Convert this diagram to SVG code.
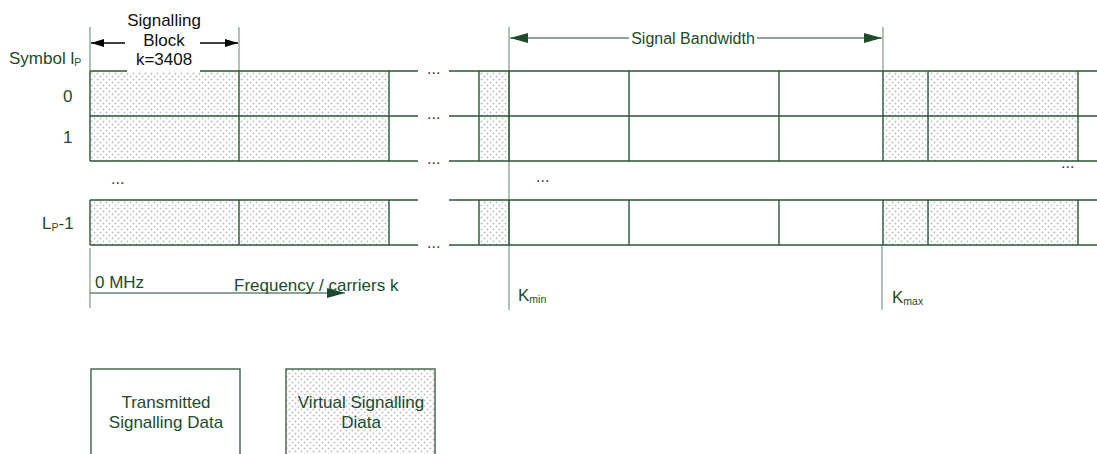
<svg xmlns="http://www.w3.org/2000/svg" width="1097" height="454" viewBox="0 0 1097 454">
<style>
.t{font-family:"Liberation Sans",Arial,sans-serif;font-size:17px;fill:#1d4b2b}
.t16{font-size:16px}
.tb{font-family:"Liberation Sans",Arial,sans-serif;font-size:17px;fill:#111}
.sub{font-size:10.5px}
.ln{stroke:#2b5636;stroke-width:1.4;fill:none}
.lt{stroke:#7d9a84;stroke-width:1.2;fill:none}
.sh{fill:url(#dots)}
</style>
<defs>
<pattern id="dots" width="6" height="6" patternUnits="userSpaceOnUse">
<rect width="6" height="6" fill="#fff"/>
<circle cx="1.5" cy="1.5" r="0.9" fill="#bdbdbd"/>
<circle cx="4.5" cy="4.5" r="0.9" fill="#bdbdbd"/>
</pattern>
<marker id="ag" markerUnits="userSpaceOnUse" markerWidth="18" markerHeight="12" refX="18" refY="6" orient="auto-start-reverse">
<path d="M0,1 L18,6 L0,11 z" fill="#1d4b2b"/>
</marker>
<marker id="ak" markerUnits="userSpaceOnUse" markerWidth="13" markerHeight="10" refX="13" refY="5" orient="auto-start-reverse">
<path d="M0,1 L13,5 L0,9 z" fill="#000"/>
</marker>
</defs>
<rect width="1097" height="454" fill="#fff"/>

<g id="shading">
<rect class="sh" x="90" y="71" width="299" height="90"/>
<rect class="sh" x="90" y="200" width="299" height="45"/>
<rect class="sh" x="479" y="71" width="30" height="90"/>
<rect class="sh" x="479" y="200" width="30" height="45"/>
<rect class="sh" x="883" y="71" width="195" height="90"/>
<rect class="sh" x="883" y="200" width="195" height="45"/>
</g>

<g id="connectors">
<line class="lt" x1="90" y1="27" x2="90" y2="71"/>
<line class="lt" x1="239" y1="27" x2="239" y2="71"/>
<line class="lt" x1="509" y1="27" x2="509" y2="310"/>
<line class="lt" x1="883" y1="27" x2="883" y2="71"/>
<line class="lt" x1="882" y1="245" x2="882" y2="310"/>
<line class="lt" x1="90" y1="248" x2="90" y2="308"/>
<path class="ln" d="M90,71H418M449,71H1097M90,116H418M449,116H1097M90,161H418M449,161H1097M90,200H418M449,200H1097M90,245H418M449,245H1097"/>
<path class="ln" d="M90,71V161M239,71V161M389,71V161M90,200V245M239,200V245M389,200V245"/>
<path class="ln" d="M479,71V161M509,71V161M629,71V161M779,71V161M883,71V161M928,71V161M1078,71V161"/>
<path class="ln" d="M479,200V245M509,200V245M629,200V245M779,200V245M883,200V245M928,200V245M1078,200V245"/>
<line x1="125" y1="43" x2="91" y2="43" stroke="#000" stroke-width="1.3" marker-end="url(#ak)"/>
<line x1="200" y1="43" x2="238" y2="43" stroke="#000" stroke-width="1.3" marker-end="url(#ak)"/>
<line x1="510" y1="38" x2="882" y2="38" stroke="#1d4b2b" stroke-width="1.2" marker-start="url(#ag)" marker-end="url(#ag)"/>
<line x1="90" y1="293" x2="345" y2="293" stroke="#1d4b2b" stroke-width="1.2" marker-end="url(#ag)"/>
</g>

<g id="signalling-block">
<rect x="127" y="29" width="73" height="43" fill="#fff"/>
<text class="tb" x="164" y="26" text-anchor="middle">Signalling</text>
<text class="tb" x="164" y="46" text-anchor="middle">Block</text>
<text class="tb" x="164" y="65" text-anchor="middle">k=3408</text>
</g>

<g id="signal-bandwidth">
<rect x="629" y="28" width="128" height="20" fill="#fff"/>
<text class="t t16" x="693" y="44" text-anchor="middle">Signal Bandwidth</text>
</g>

<g id="row-labels">
<text class="t" x="9" y="64">Symbol l<tspan class="sub" dy="2">P</tspan></text>
<text class="t" x="63" y="102">0</text>
<text class="t" x="63" y="143">1</text>
<text class="t" x="42" y="229">L<tspan class="sub" dy="2">P</tspan><tspan dy="-2">-1</tspan></text>
</g>

<g id="ellipses">
<text class="t t16" x="427" y="74">...</text>
<text class="t t16" x="427" y="119">...</text>
<text class="t t16" x="427" y="164">...</text>
<text class="t t16" x="427" y="248">...</text>
<text class="t t16" x="111" y="184">...</text>
<text class="t t16" x="536" y="182">...</text>
<text class="t t16" x="1061" y="168">...</text>
</g>

<g id="axis-labels">
<text class="t" x="95" y="288">0 MHz</text>
<text class="t" x="234" y="291">Frequency / carriers k</text>
<text class="t" x="518" y="301">K<tspan class="sub" dy="2">min</tspan></text>
<text class="t" x="892" y="303">K<tspan class="sub" dy="2">max</tspan></text>
</g>

<g id="legend-transmitted">
<rect x="91" y="369" width="149" height="95" fill="#fff" stroke="#2b5636" stroke-width="1.3"/>
<text class="t" x="166" y="408" text-anchor="middle">Transmitted</text>
<text class="t" x="166" y="428" text-anchor="middle">Signalling Data</text>
</g>

<g id="legend-virtual">
<rect x="286" y="369" width="149" height="95" fill="url(#dots)" stroke="#2b5636" stroke-width="1.3"/>
<text class="t" x="361" y="408" text-anchor="middle">Virtual Signalling</text>
<text class="t" x="361" y="428" text-anchor="middle">Diata</text>
</g>
</svg>
